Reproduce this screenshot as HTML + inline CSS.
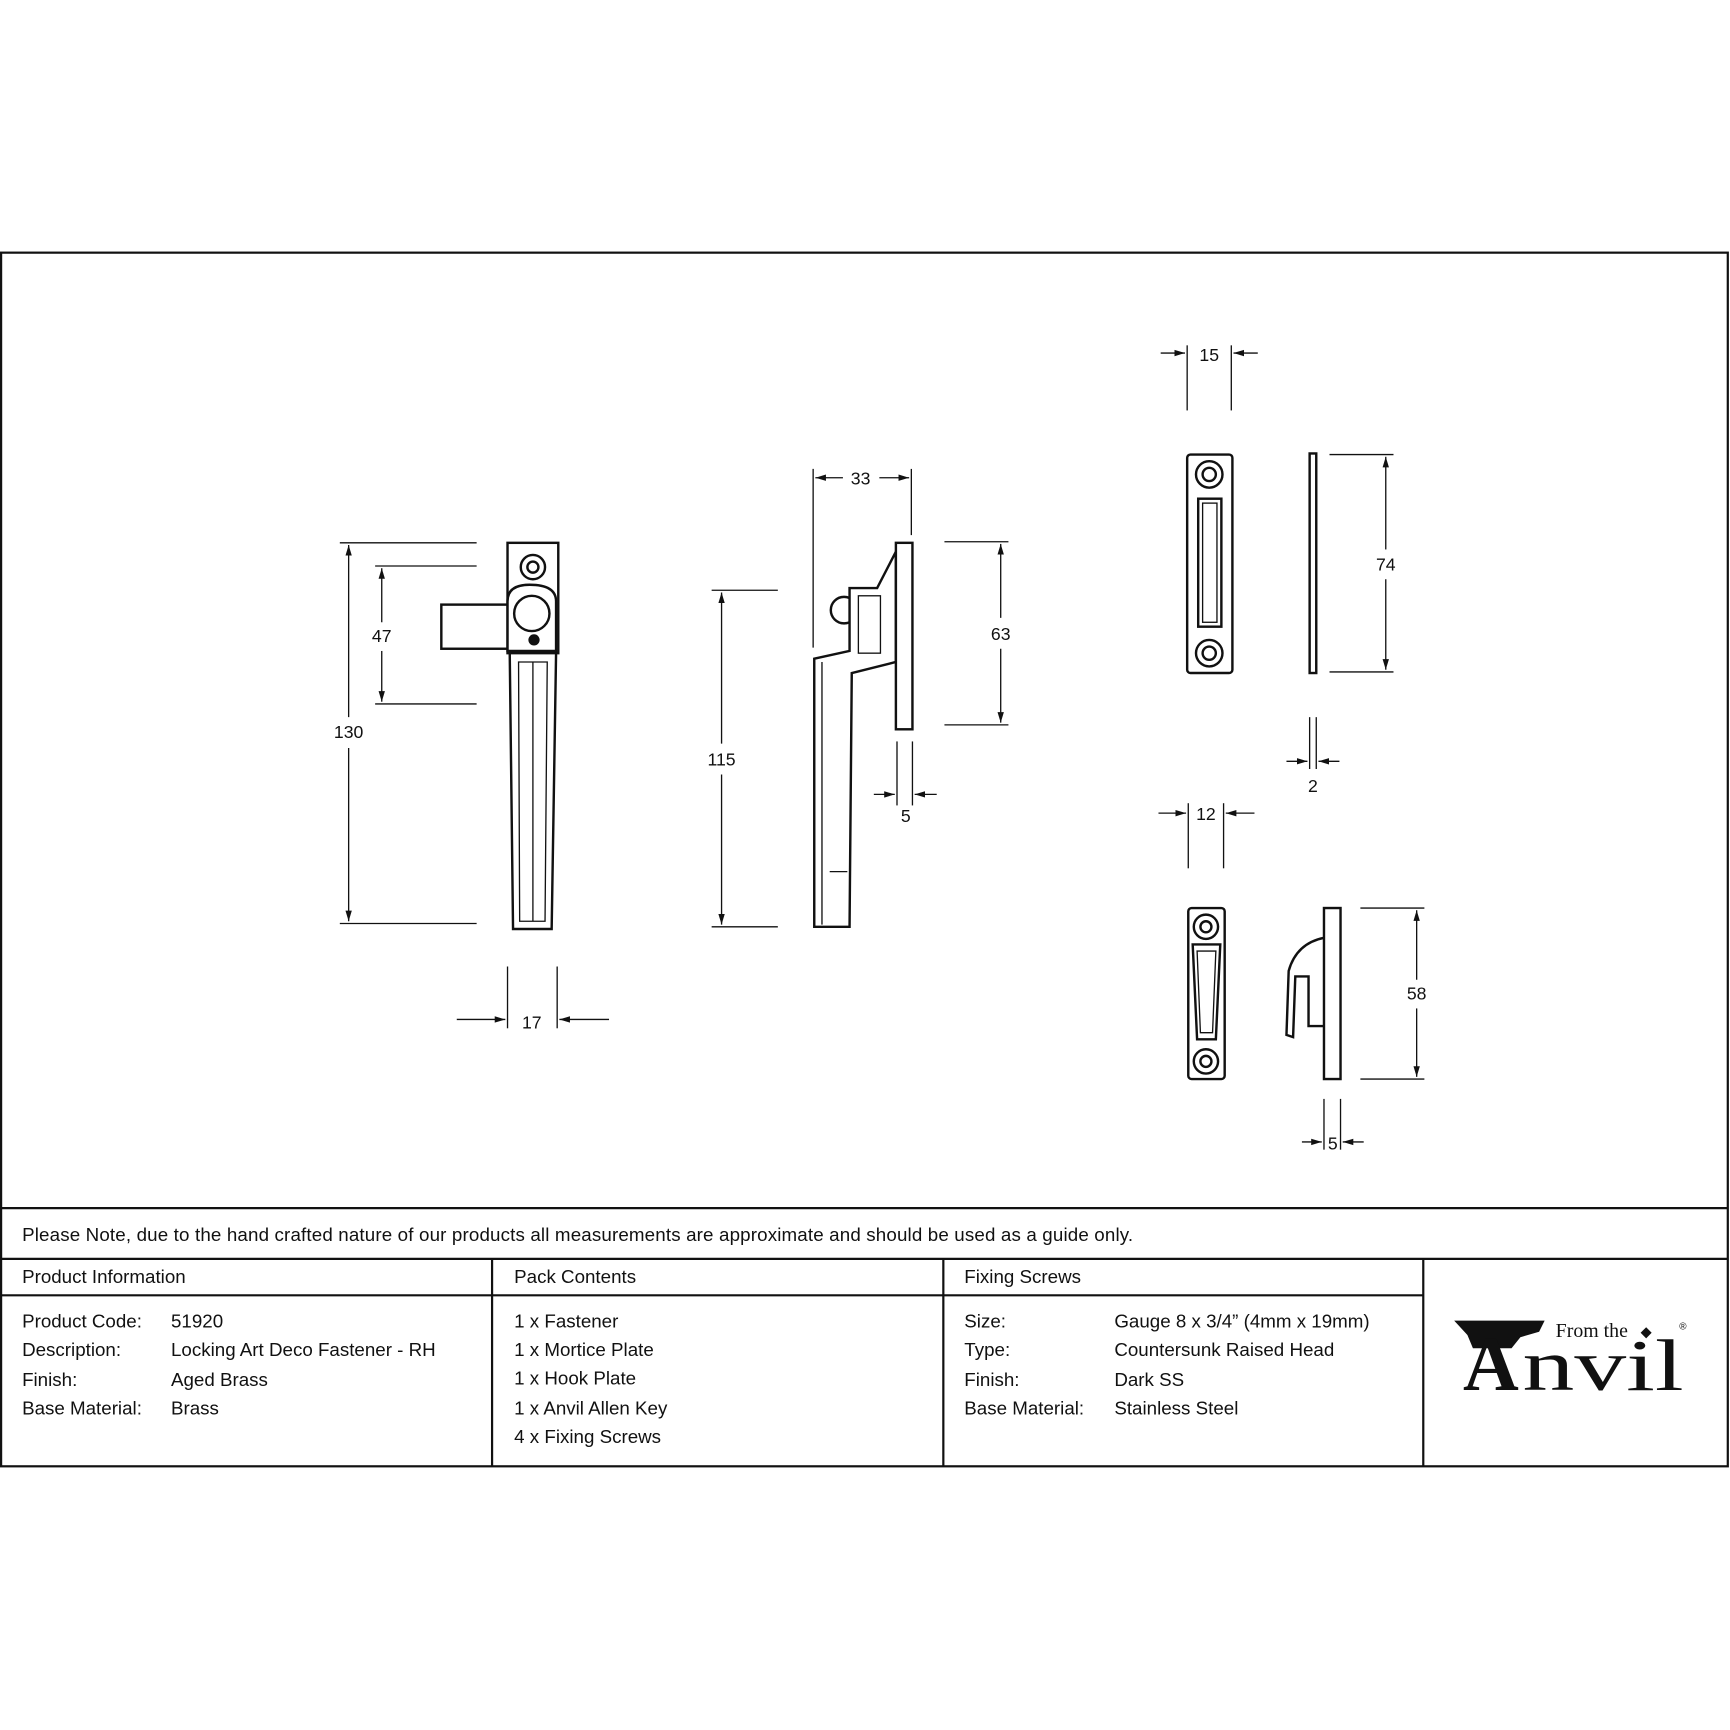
<!DOCTYPE html>
<html><head><meta charset="utf-8"><style>
html,body{margin:0;padding:0;background:#fff}
svg{display:block}
text{font-family:"Liberation Sans",sans-serif;fill:#111}
</style></head><body>
<svg width="1730" height="1730" viewBox="0 0 1568 1568" xmlns="http://www.w3.org/2000/svg">
<defs>
<marker id="a" viewBox="0 0 10 10" refX="10" refY="5" markerWidth="8" markerHeight="8" orient="auto-start-reverse"><path d="M0,2 L10,5 L0,8 z" fill="#111"/></marker>
</defs>
<g stroke="#111" stroke-width="2" fill="none">
<rect x="1" y="229" width="1565" height="1100"/>
<line x1="1" y1="1095" x2="1566" y2="1095"/>
<line x1="1" y1="1141" x2="1566" y2="1141"/>
<line x1="1" y1="1174" x2="1290" y2="1174"/>
<line x1="446" y1="1141" x2="446" y2="1329"/>
<line x1="855" y1="1141" x2="855" y2="1329"/>
<line x1="1290" y1="1141" x2="1290" y2="1329"/>
</g>
<g stroke="#111" stroke-width="1.2" fill="none">
<line x1="308" y1="492" x2="432" y2="492"/><line x1="308" y1="837" x2="432" y2="837"/>
<line x1="316" y1="494" x2="316" y2="650" marker-start="url(#a)"/><line x1="316" y1="678" x2="316" y2="835" marker-end="url(#a)"/>
<line x1="340" y1="513" x2="432" y2="513"/><line x1="340" y1="638" x2="432" y2="638"/>
<line x1="346" y1="515" x2="346" y2="564" marker-start="url(#a)"/><line x1="346" y1="590" x2="346" y2="636" marker-end="url(#a)"/>
<line x1="460" y1="876" x2="460" y2="932"/><line x1="505" y1="876" x2="505" y2="932"/>
<line x1="414" y1="924" x2="458" y2="924" marker-end="url(#a)"/><line x1="552" y1="924" x2="507" y2="924" marker-end="url(#a)"/>
<line x1="737" y1="425" x2="737" y2="587"/><line x1="826" y1="425" x2="826" y2="485"/>
<line x1="739" y1="433" x2="764" y2="433" marker-start="url(#a)"/><line x1="797" y1="433" x2="824" y2="433" marker-end="url(#a)"/>
<line x1="856" y1="491" x2="914" y2="491"/><line x1="856" y1="657" x2="914" y2="657"/>
<line x1="907" y1="493" x2="907" y2="560" marker-start="url(#a)"/><line x1="907" y1="588" x2="907" y2="655" marker-end="url(#a)"/>
<line x1="645" y1="535" x2="705" y2="535"/><line x1="645" y1="840" x2="705" y2="840"/>
<line x1="654" y1="537" x2="654" y2="674" marker-start="url(#a)"/><line x1="654" y1="702" x2="654" y2="838" marker-end="url(#a)"/>
<line x1="813" y1="672" x2="813" y2="730"/><line x1="827" y1="672" x2="827" y2="730"/>
<line x1="792" y1="720" x2="811" y2="720" marker-end="url(#a)"/><line x1="849" y1="720" x2="829" y2="720" marker-end="url(#a)"/>
<line x1="1076" y1="313" x2="1076" y2="372"/><line x1="1116" y1="313" x2="1116" y2="372"/>
<line x1="1052" y1="320" x2="1074" y2="320" marker-end="url(#a)"/><line x1="1140" y1="320" x2="1118" y2="320" marker-end="url(#a)"/>
<line x1="1205" y1="412" x2="1263" y2="412"/><line x1="1205" y1="609" x2="1263" y2="609"/>
<line x1="1256" y1="414" x2="1256" y2="498" marker-start="url(#a)"/><line x1="1256" y1="525" x2="1256" y2="607" marker-end="url(#a)"/>
<line x1="1187" y1="650" x2="1187" y2="697"/><line x1="1193" y1="650" x2="1193" y2="697"/>
<line x1="1166" y1="690" x2="1185" y2="690" marker-end="url(#a)"/><line x1="1214" y1="690" x2="1195" y2="690" marker-end="url(#a)"/>
<line x1="1077" y1="728" x2="1077" y2="787"/><line x1="1109" y1="728" x2="1109" y2="787"/>
<line x1="1050" y1="737" x2="1075" y2="737" marker-end="url(#a)"/><line x1="1137" y1="737" x2="1111" y2="737" marker-end="url(#a)"/>
<line x1="1233" y1="823" x2="1291" y2="823"/><line x1="1233" y1="978" x2="1291" y2="978"/>
<line x1="1284" y1="825" x2="1284" y2="888" marker-start="url(#a)"/><line x1="1284" y1="914" x2="1284" y2="976" marker-end="url(#a)"/>
<line x1="1200" y1="996" x2="1200" y2="1042"/><line x1="1215" y1="996" x2="1215" y2="1042"/>
<line x1="1180" y1="1035" x2="1198" y2="1035" marker-end="url(#a)"/><line x1="1236" y1="1035" x2="1217" y2="1035" marker-end="url(#a)"/>
</g>
<g stroke="#111" stroke-width="2.2" fill="#fff">
<rect x="400" y="548" width="64" height="40"/>
<rect x="460" y="492" width="46" height="100"/>
<circle cx="483" cy="514" r="11"/><circle cx="483" cy="514" r="5"/>
<path d="M462,592 L504,592 L500,842 L465,842 Z"/>
<path d="M470,600 L496,600 L494,835 L471,835 Z" stroke-width="1.2"/>
<line x1="483" y1="600" x2="483" y2="835" stroke-width="1.2"/>
<path d="M460,545 Q460,530 480,530 Q504,530 504,545 L504,590 L460,590 Z"/>
<circle cx="482" cy="556" r="16"/>
<circle cx="484" cy="580" r="4" fill="#111"/>
<circle cx="765" cy="553" r="12"/>
<path d="M738,597 L770,590 L770,533 L795,533 L812,500 L812,600 L772,610 L770,840 L738,840 Z"/>
<rect x="812" y="492" width="15" height="169"/>
<rect x="778" y="540" width="20" height="52" stroke-width="1.2"/>
<path d="M745,600 L745,838 M752,790 L768,790" stroke-width="1.2" fill="none"/>
<rect x="1076" y="412" width="41" height="198" rx="3"/>
<circle cx="1096" cy="430" r="12"/><circle cx="1096" cy="430" r="6"/>
<circle cx="1096" cy="592" r="12"/><circle cx="1096" cy="592" r="6"/>
<rect x="1086" y="452" width="21" height="116"/><rect x="1090" y="456" width="13" height="108" stroke-width="1.2"/>
<rect x="1187" y="411" width="6" height="199"/>
<rect x="1077" y="823" width="33" height="155" rx="3"/>
<circle cx="1093" cy="840" r="11"/><circle cx="1093" cy="840" r="5"/>
<circle cx="1093" cy="962" r="11"/><circle cx="1093" cy="962" r="5"/>
<path d="M1081,856 L1106,856 L1102,942 L1085,942 Z"/><path d="M1085,862 L1102,862 L1099,936 L1088,936 Z" stroke-width="1.2"/>
<rect x="1200" y="823" width="15" height="155"/>
<path d="M1200,850 Q1175,855 1168,880 L1166,938 L1172,940 L1174,885 L1186,885 L1186,930 L1200,930" fill="none"/>
</g>
<g font-size="16" text-anchor="middle">
<text x="316" y="669">130</text><text x="346" y="582">47</text><text x="482" y="932">17</text>
<text x="780" y="439">33</text><text x="907" y="580">63</text><text x="654" y="694">115</text><text x="821" y="745">5</text>
<text x="1096" y="327">15</text><text x="1256" y="517">74</text><text x="1190" y="718">2</text>
<text x="1093" y="743">12</text><text x="1284" y="906">58</text><text x="1208" y="1042">5</text>
</g>
<g font-size="17">
<text x="20" y="1125" textLength="1007" lengthAdjust="spacing">Please Note, due to the hand crafted nature of our products all measurements are approximate and should be used as a guide only.</text>
<text x="20" y="1163">Product Information</text><text x="466" y="1163">Pack Contents</text><text x="874" y="1163">Fixing Screws</text>
<text x="20" y="1203">Product Code:</text><text x="155" y="1203">51920</text>
<text x="20" y="1229">Description:</text><text x="155" y="1229">Locking Art Deco Fastener - RH</text>
<text x="20" y="1256">Finish:</text><text x="155" y="1256">Aged Brass</text>
<text x="20" y="1282">Base Material:</text><text x="155" y="1282">Brass</text>
<text x="466" y="1203">1 x Fastener</text><text x="466" y="1229">1 x Mortice Plate</text><text x="466" y="1255">1 x Hook Plate</text><text x="466" y="1282">1 x Anvil Allen Key</text><text x="466" y="1308">4 x Fixing Screws</text>
<text x="874" y="1203">Size:</text><text x="1010" y="1203">Gauge 8 x 3/4” (4mm x 19mm)</text>
<text x="874" y="1229">Type:</text><text x="1010" y="1229">Countersunk Raised Head</text>
<text x="874" y="1256">Finish:</text><text x="1010" y="1256">Dark SS</text>
<text x="874" y="1282">Base Material:</text><text x="1010" y="1282">Stainless Steel</text>
</g>
<path d="M1318,1197 L1400,1197 L1395,1207 L1378,1212 L1370,1222 L1335,1222 L1330,1210 Z" fill="#111"/>
<text x="1326" y="1260" font-size="70" font-weight="bold" style="font-family:'Liberation Serif',serif">A</text>
<text x="1380" y="1260" style="font-family:'Liberation Serif',serif" font-size="66" textLength="146" lengthAdjust="spacingAndGlyphs">nvil</text>
<text x="1410" y="1212" style="font-family:'Liberation Serif',serif" font-size="18">From the</text>
<path d="M1492,1203 l5,5 l-5,5 l-5,-5 z" fill="#111"/>
<text x="1522" y="1205" font-size="9">®</text>
</svg>
</body></html>
